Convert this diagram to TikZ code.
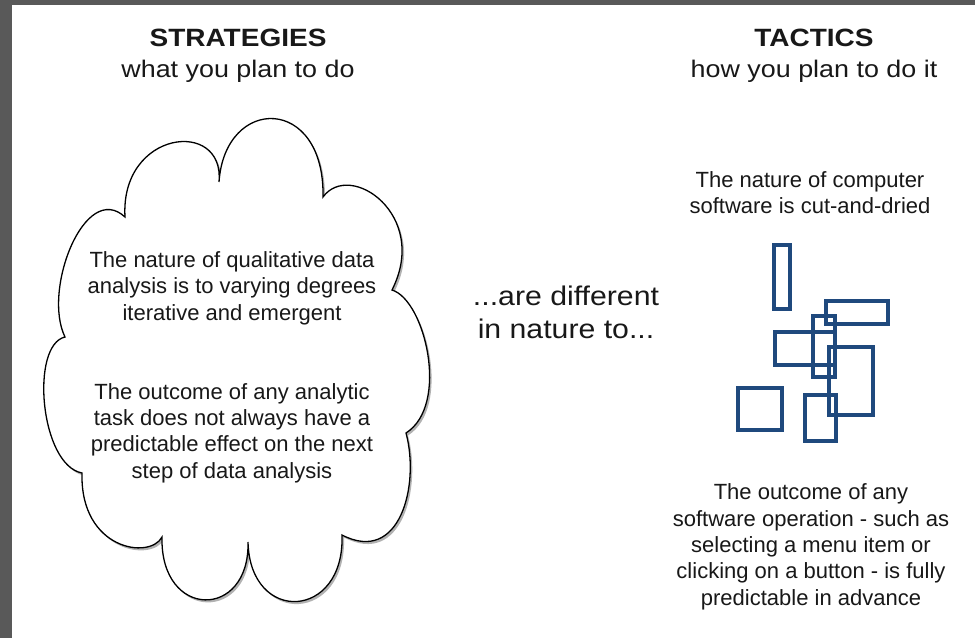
\documentclass[tikz,border=0pt]{standalone}
\usepackage{fontspec}
\setmainfont{Liberation Sans}
\newfontfamily\widefont{Liberation Sans}[FakeStretch=1.12]
\usepackage{xcolor}
\usepackage{tikz}
\usetikzlibrary{shadows, positioning}
\definecolor{framegray}{RGB}{89,89,89}
\definecolor{boxblue}{RGB}{31,73,125}
\definecolor{inkgray}{RGB}{24,24,24}
\tikzstyle{heading} = [font=\widefont\bfseries\fontsize{25}{30}\selectfont, text=inkgray, inner sep=0pt, anchor=base]
\tikzstyle{subheading} = [font=\widefont\fontsize{24}{29}\selectfont, text=inkgray, inner sep=0pt, anchor=base]
\tikzstyle{bodytext} = [font=\fontsize{22}{26.3}\selectfont, text=inkgray, align=center, inner sep=0pt, anchor=base]
\tikzstyle{middletext} = [font=\widefont\fontsize{27}{32.3}\selectfont, text=inkgray, align=center, inner sep=0pt, anchor=base]
\tikzstyle{cloudline} = [draw=black, line width=1.3pt, fill=white, drop shadow={shadow xshift=2pt, shadow yshift=-2.5pt, opacity=0.3, fill=black}]
\tikzstyle{softbox} = [draw=boxblue, line width=3.6pt]

\begin{document}
\begin{tikzpicture}[x=1pt, y=-1pt]

% Page and frame
\useasboundingbox (0,0) rectangle (975,638);
\fill[white] (0,0) rectangle (975,638);
\fill[framegray] (0,0) rectangle (12,638);
\fill[framegray] (0,0) rectangle (975,5);

% Headings
\node[heading] (strat) at (238,46) {STRATEGIES};
\node[subheading] (strat_sub) at ([yshift=-31pt]strat.base) {what you plan to do};
\node[heading] (tact) at (814,46) {TACTICS};
\node[subheading] (tact_sub) at ([yshift=-31pt]tact.base) {how you plan to do it};

% Cloud
\draw[cloudline] (125,217)
  .. controls (120,130) and (225,118) .. (219,182)
  .. controls (225,95) and (325,95) .. (323,197)
  .. controls (350,160) and (430,215) .. (392,290)
  .. controls (425,300) and (450,405) .. (406,433)
  .. controls (420,485) and (400,565) .. (342,535)
  .. controls (345,620) and (250,625) .. (248,542)
  .. controls (250,620) and (160,620) .. (162,537)
  .. controls (150,560) and (80,550) .. (82,473)
  .. controls (40,465) and (30,345) .. (65,337)
  .. controls (42,290) and (85,180) .. (125,217) -- cycle;

% Text inside the cloud (base = last line)
\node[bodytext] (quali) at (232,320) {The nature of qualitative data\\analysis is to varying degrees\\iterative and emergent};
\node[bodytext] (outcome) at (232,478) {The outcome of any analytic\\task does not always have a\\predictable effect on the next\\step of data analysis};

% Middle text
\node[middletext] (different) at (566,338) {...are different\\in nature to...};

% Software side
\node[bodytext] (software) at (810,213.3) {The nature of computer\\software is cut-and-dried};

% Rectangles
\draw[softbox] (774,245) rectangle (790,309);
\draw[softbox] (826,301) rectangle (888,324);
\draw[softbox] (775,332) rectangle (835,365);
\draw[softbox] (813,316) rectangle (835,377);
\draw[softbox] (829,347) rectangle (873,415);
\draw[softbox] (738,388) rectangle (782,430);
\draw[softbox] (805,395) rectangle (836,441);

\node[bodytext] (operation) at (811,605) {The outcome of any\\software operation - such as\\selecting a menu item or\\clicking on a button - is fully\\predictable in advance};

\end{tikzpicture}
\end{document}
